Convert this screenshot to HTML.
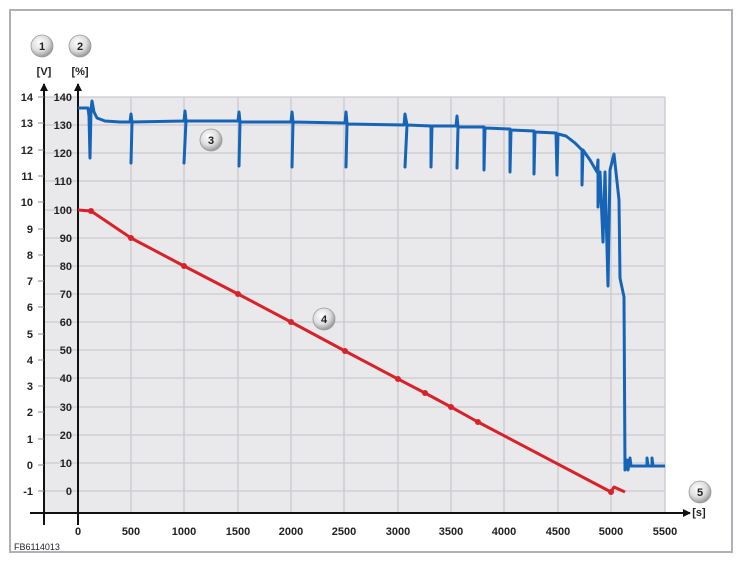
<!DOCTYPE html>
<html><head><meta charset="utf-8"><style>
body{margin:0;background:#fff}
svg text{font-family:"Liberation Sans",Arial,sans-serif;fill:#222}
</style></head><body>
<svg width="742" height="563" viewBox="0 0 742 563" xmlns="http://www.w3.org/2000/svg">
<defs>
<radialGradient id="g" cx="40%" cy="35%" r="65%"><stop offset="0" stop-color="#fff"/><stop offset="0.6" stop-color="#ddd"/><stop offset="1" stop-color="#999"/></radialGradient>
<marker id="ar" markerWidth="8" markerHeight="8" refX="7" refY="4" orient="auto" markerUnits="userSpaceOnUse"><path d="M0,0 L8,4 L0,8 z" fill="#111"/></marker>
</defs>
<rect x="10" y="10" width="722" height="542" fill="#fff" stroke="#b0b0b8" stroke-width="2"/>
<rect x="44" y="97" width="621" height="416" fill="#e9e9ec"/>
<g stroke="#c9c9d0" stroke-width="1.3">
<line x1="44" y1="97" x2="665" y2="97"/><line x1="44" y1="125" x2="665" y2="125"/><line x1="44" y1="153" x2="665" y2="153"/><line x1="44" y1="181" x2="665" y2="181"/><line x1="44" y1="210" x2="665" y2="210"/><line x1="44" y1="238" x2="665" y2="238"/><line x1="44" y1="266" x2="665" y2="266"/><line x1="44" y1="294" x2="665" y2="294"/><line x1="44" y1="322" x2="665" y2="322"/><line x1="44" y1="350" x2="665" y2="350"/><line x1="44" y1="378" x2="665" y2="378"/><line x1="44" y1="407" x2="665" y2="407"/><line x1="44" y1="435" x2="665" y2="435"/><line x1="44" y1="463" x2="665" y2="463"/><line x1="44" y1="491" x2="665" y2="491"/>
<line x1="131" y1="97" x2="131" y2="513"/><line x1="184" y1="97" x2="184" y2="513"/><line x1="238" y1="97" x2="238" y2="513"/><line x1="291" y1="97" x2="291" y2="513"/><line x1="344" y1="97" x2="344" y2="513"/><line x1="398" y1="97" x2="398" y2="513"/><line x1="451" y1="97" x2="451" y2="513"/><line x1="504" y1="97" x2="504" y2="513"/><line x1="558" y1="97" x2="558" y2="513"/><line x1="611" y1="97" x2="611" y2="513"/><line x1="665" y1="97" x2="665" y2="513"/>
</g>
<g stroke="#111" stroke-width="2">
<line x1="44" y1="525" x2="44" y2="84" marker-end="url(#ar)"/>
<line x1="78" y1="525" x2="78" y2="84" marker-end="url(#ar)"/>
<line x1="30" y1="513" x2="690" y2="513" marker-end="url(#ar)"/>
</g>
<g stroke="#888" stroke-width="1">
<line x1="38" y1="97" x2="44" y2="97"/><line x1="38" y1="123" x2="44" y2="123"/><line x1="38" y1="150" x2="44" y2="150"/><line x1="38" y1="176" x2="44" y2="176"/><line x1="38" y1="202" x2="44" y2="202"/><line x1="38" y1="229" x2="44" y2="229"/><line x1="38" y1="255" x2="44" y2="255"/><line x1="38" y1="281" x2="44" y2="281"/><line x1="38" y1="307" x2="44" y2="307"/><line x1="38" y1="334" x2="44" y2="334"/><line x1="38" y1="360" x2="44" y2="360"/><line x1="38" y1="386" x2="44" y2="386"/><line x1="38" y1="412" x2="44" y2="412"/><line x1="38" y1="439" x2="44" y2="439"/><line x1="38" y1="465" x2="44" y2="465"/><line x1="38" y1="491" x2="44" y2="491"/>
</g>
<g font-size="11" font-weight="bold" text-anchor="end">
<text x="33" y="101">14</text><text x="33" y="127">13</text><text x="33" y="154">12</text><text x="33" y="180">11</text><text x="33" y="206">10</text><text x="33" y="233">9</text><text x="33" y="259">8</text><text x="33" y="285">7</text><text x="33" y="311">6</text><text x="33" y="338">5</text><text x="33" y="364">4</text><text x="33" y="390">3</text><text x="33" y="416">2</text><text x="33" y="443">1</text><text x="33" y="469">0</text><text x="33" y="495">-1</text>
<text x="72" y="101">140</text><text x="72" y="129">130</text><text x="72" y="157">120</text><text x="72" y="185">110</text><text x="72" y="214">100</text><text x="72" y="242">90</text><text x="72" y="270">80</text><text x="72" y="298">70</text><text x="72" y="326">60</text><text x="72" y="354">50</text><text x="72" y="382">40</text><text x="72" y="411">30</text><text x="72" y="439">20</text><text x="72" y="467">10</text><text x="72" y="495">0</text>
</g>
<g font-size="11" font-weight="bold" text-anchor="middle">
<text x="78" y="535">0</text><text x="131" y="535">500</text><text x="184" y="535">1000</text><text x="238" y="535">1500</text><text x="291" y="535">2000</text><text x="344" y="535">2500</text><text x="398" y="535">3000</text><text x="451" y="535">3500</text><text x="504" y="535">4000</text><text x="558" y="535">4500</text><text x="611" y="535">5000</text><text x="665" y="535">5500</text>
<text x="44" y="75">[V]</text><text x="80" y="75">[%]</text><text x="699" y="516">[s]</text>
</g>
<text x="14" y="550" font-size="9">FB6114013</text>
<polyline fill="none" stroke="#d8222a" stroke-width="3" stroke-linejoin="round" points="78,210 91,211 131,238 184,266 238,294 291,322 345,351 398,379 425,393 451,407 478,422 611,492 614,487 625,492"/>
<g fill="#d8222a"><circle cx="91" cy="211" r="3"/><circle cx="131" cy="238" r="3"/><circle cx="184" cy="266" r="3"/><circle cx="238" cy="294" r="3"/><circle cx="291" cy="322" r="3"/><circle cx="345" cy="351" r="3"/><circle cx="398" cy="379" r="3"/><circle cx="425" cy="393" r="3"/><circle cx="451" cy="407" r="3"/><circle cx="478" cy="422" r="3"/><circle cx="611" cy="492" r="3"/></g>
<polyline fill="none" stroke="#1664b6" stroke-width="3" stroke-linejoin="round" points="78,108 88,108 89,116 90,158 91,110 92,101 94,112 97,118 105,121 120,122 130,122 131,114 132,122 131,163 132,122 184,121 185,111 186,121 184,163 186,121 238,121 239,112 240,122 239,166 240,122 291,122 292,112 293,122 292,167 293,122 345,123 346,112 347,123 346,167 347,124 404,125 405,114 407,125 405,167 407,125 431,126 431,167 432,126 456,126 457,116 458,127 457,168 458,127 484,127 484,170 485,128 510,129 510,172 511,130 534,131 534,174 535,132 556,133 557,175 558,134 566,136 575,143 582,150 582,185 583,150 590,160 597,172 598,160 598,207 600,172 603,242 605,172 608,286 610,170 614,154 619,200 620,278 624,297 625,470 627,460 628,470 630,458 631,466 647,466 647,458 648,466 652,466 652,458 653,466 665,466"/>
<g font-size="11" font-weight="bold" text-anchor="middle">
<circle cx="42" cy="46" r="11" fill="url(#g)" stroke="#999" stroke-width="0.8"/><text x="42" y="50">1</text>
<circle cx="80" cy="46" r="11" fill="url(#g)" stroke="#999" stroke-width="0.8"/><text x="80" y="50">2</text>
<circle cx="211" cy="140" r="11" fill="url(#g)" stroke="#999" stroke-width="0.8"/><text x="211" y="144">3</text>
<circle cx="324" cy="319" r="11" fill="url(#g)" stroke="#999" stroke-width="0.8"/><text x="324" y="323">4</text>
<circle cx="700" cy="492" r="11" fill="url(#g)" stroke="#999" stroke-width="0.8"/><text x="700" y="496">5</text>
</g>
</svg>
</body></html>
